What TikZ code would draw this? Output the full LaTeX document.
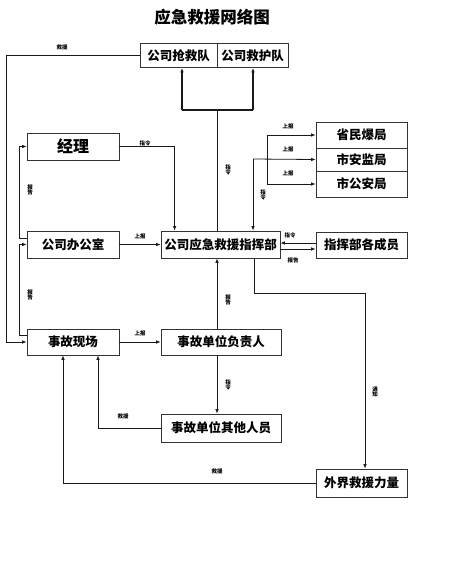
\documentclass[tikz,border=0pt]{standalone}
\usepackage{fontspec}
\newfontfamily\cjk{Noto Sans CJK SC}
\usetikzlibrary{arrows.meta,calc}
\begin{document}
\begin{tikzpicture}[x=1pt,y=-1pt,
  box/.style={draw=black!80,line width=0.8pt,inner sep=0pt,font=\cjk\bfseries\fontsize{12.5}{12.5}\selectfont},
  arr/.style={draw=black!90,line width=0.8pt,-{Latex[length=4.5pt,width=3.6pt]}},
  ln/.style={draw=black!90,line width=0.8pt},
  lab/.style={font=\cjk\bfseries\fontsize{5.5}{5.5}\selectfont,inner sep=0pt},
  vlab/.style={font=\cjk\bfseries\fontsize{5.5}{5.8}\selectfont,inner sep=0pt,align=center}]
\useasboundingbox (0,0) rectangle (450,579);
\node[font=\cjk\bfseries\fontsize{16.5}{16.5}\selectfont] (title) at (212,17) {应急救援网络图};
% boxes
\node[box,minimum width=77pt,minimum height=24pt] (qiang) at (178.5,55.5) {公司抢救队};
\node[box,minimum width=71pt,minimum height=24pt] (jiuhu) at (252.5,55.5) {公司救护队};
\node[box,minimum width=92pt,minimum height=27pt,font=\cjk\bfseries\fontsize{16}{16}\selectfont] (jingli) at (73,146.5) {经理};
\node[box,minimum width=92pt,minimum height=27pt] (office) at (73,244.5) {公司办公室};
\node[box,minimum width=119pt,minimum height=27pt] (hq) at (220.5,244.5) {公司应急救援指挥部};
\node[box,minimum width=91pt,minimum height=26pt] (member) at (361.5,245) {指挥部各成员};
\node[box,minimum width=91pt,minimum height=26pt] (minbao) at (361.5,135) {省民爆局};
\node[box,minimum width=91pt,minimum height=23pt] (anjian) at (361.5,159.5) {市安监局};
\node[box,minimum width=91pt,minimum height=26pt] (gongan) at (361.5,184) {市公安局};
\node[box,minimum width=92pt,minimum height=26pt] (scene) at (73,342) {事故现场};
\node[box,minimum width=120pt,minimum height=26pt] (leader) at (221,342) {事故单位负责人};
\node[box,minimum width=120pt,minimum height=28pt] (others) at (221,428) {事故单位其他人员};
\node[box,minimum width=91pt,minimum height=28pt] (outer) at (361.5,483) {外界救援力量};
% coordinates
\coordinate (j) at (217,110);
\coordinate (ja) at (182,110);
\coordinate (jb) at (253,110);
\coordinate (g) at (253,159);
\coordinate (gv) at (267,159);
% hq to teams
\draw[ln] (j |- hq.north) -- (j);
\draw[ln,line width=1.1pt] (ja) -- (jb);
\draw[arr,line width=1.1pt] (ja) -- (ja |- qiang.south);
\draw[arr,line width=1.1pt] (jb) -- (jb |- jiuhu.south);
% outer left rescue line
\draw[arr] (qiang.west) -| ([xshift=-20pt]scene.west) -- (scene.west);
% office -> jingli, scene -> office
\draw[arr] ([yshift=6.5pt]office.west) -- ++(-7,0) |- (jingli.west);
\draw[arr] ([yshift=6.5pt]scene.west) -- ++(-7,0) |- (office.west);
% jingli -> hq
\draw[arr] (jingli.east) -| ([xshift=14pt]hq.north west);
% office -> hq
\draw[arr] (office.east) -- (hq.west);
% hq <-> member
\draw[arr] ([yshift=2pt]member.west) -- ([yshift=2pt]member.west -| hq.east);
\draw[arr] ([yshift=-4.5pt]hq.east) -- ([yshift=-4.5pt]hq.east -| member.west);
% government boxes
\draw[arr] (g) -- (g |- hq.north);
\draw[arr] (g) -- (anjian.west);
\draw[ln] (gv |- minbao.west) -- (gv |- gongan.west);
\draw[arr] (gv |- minbao.west) -- (minbao.west);
\draw[arr] (gv |- gongan.west) -- (gongan.west);
% hq -> outer
\draw[arr] ([xshift=33.5pt]hq.south) -- ++(0,35) -| ([xshift=3.5pt]outer.north);
% scene -> leader
\draw[arr] (scene.east) -- (leader.west);
% leader -> hq, leader -> others
\draw[arr] (leader.north -| j) -- (hq.south -| j);
\draw[arr] (leader.south -| j) -- (others.north -| j);
% others -> scene
\draw[arr] (others.west) -| ([xshift=25pt]scene.south);
% outer -> scene
\draw[arr] (outer.west) -| ([xshift=-10pt]scene.south);
% labels
\node[lab] (l1) at (62,47) {救援};
\node[lab] (l2) at (145,143) {指令};
\node[lab] (l3) at (140,236) {上报};
\node[vlab] (l4) at (30,190) {报\\告};
\node[vlab] (l5) at (30,295) {报\\告};
\node[vlab] (l6) at (228,170) {指\\令};
\node[lab] (l7) at (288,126) {上报};
\node[lab] (l8) at (288,149) {上报};
\node[lab] (l9) at (288,173) {上报};
\node[vlab] (l10) at (263,195) {指\\令};
\node[lab] (l11) at (290,235) {指令};
\node[lab] (l12) at (293,260) {报告};
\node[lab] (l13) at (140,333) {上报};
\node[vlab] (l14) at (228,300) {报\\告};
\node[vlab] (l15) at (228,385) {指\\令};
\node[lab] (l16) at (123,416) {救援};
\node[vlab] (l17) at (375,392) {通\\知};
\node[lab] (l18) at (217,471) {救援};
\end{tikzpicture}
\end{document}
